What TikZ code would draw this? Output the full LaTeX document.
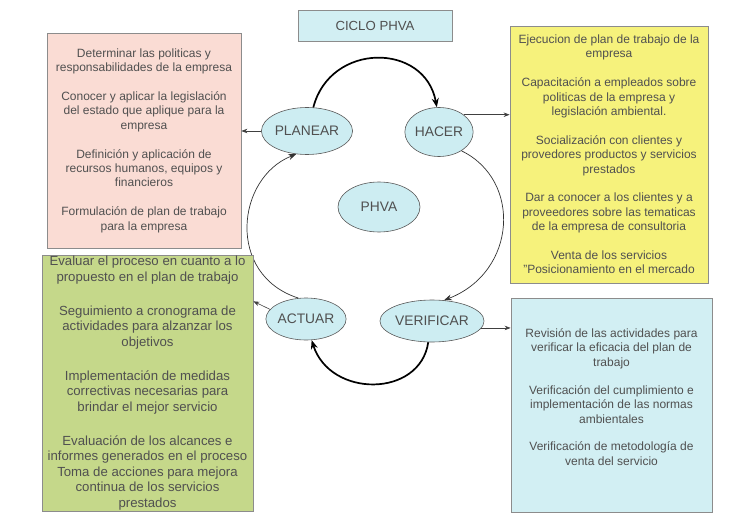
\documentclass[tikz,border=0pt]{standalone}
\usepackage{fontspec}
\setmainfont{Liberation Sans}
\usetikzlibrary{arrows.meta,shapes.geometric}

\definecolor{txtgray}{RGB}{80,80,80}
\definecolor{framegray}{RGB}{140,140,140}
\definecolor{pinkfill}{RGB}{250,220,212}
\definecolor{yellowfill}{RGB}{246,242,124}
\definecolor{greenfill}{RGB}{197,216,138}
\definecolor{bluefill}{RGB}{210,239,243}
\definecolor{stagefill}{RGB}{205,237,242}

\begin{document}
\begin{tikzpicture}[
  x=1pt,y=-1pt,
  >=Stealth,
  cycle/.style={-{Stealth[length=9pt,width=7pt]},line width=1.7pt,draw=black},
  loop/.style={-{Stealth[length=8pt,width=6pt]},line width=0.7pt,draw=black!80},
  side/.style={-{Stealth[length=6pt,width=4.5pt]},line width=0.6pt,draw=black!75},
  stage/.style={ellipse,draw=black!65,line width=0.6pt,fill=stagefill,inner sep=0pt,
    text=txtgray,font=\fontsize{13.8}{15}\selectfont},
  title/.style={rectangle,draw=framegray,line width=0.8pt,fill=bluefill,minimum width=154pt,
    minimum height=31pt,text=txtgray,font=\fontsize{13.2}{14}\selectfont},
  task/.style={rectangle,draw=framegray,line width=0.8pt,align=center,inner sep=0pt,
    text=txtgray,font=\fontsize{12}{14.4}\selectfont},
  taskg/.style={task,font=\fontsize{13.2}{15.5}\selectfont}
]
\useasboundingbox (0,0) rectangle (743,516);

% Title
\node[title] (ciclo) at (375,25.5) {CICLO PHVA};

% Stage nodes
\node[stage,minimum width=70pt,minimum height=47pt] (planear) at (307,131) {PLANEAR};
\node[stage,minimum width=64pt,minimum height=49pt] (hacer) at (439,132) {HACER};
\node[stage,minimum width=82pt,minimum height=50pt] (phva) at (379,207) {PHVA};
\node[stage,minimum width=72pt,minimum height=42pt] (actuar) at (306,319) {ACTUAR};
\node[stage,minimum width=80pt,minimum height=42pt] (verificar) at (432,321) {VERIFICAR};

% Cycle paths
\draw[cycle] (planear.75) .. controls (330,42) and (425,42) .. (hacer.95);
\draw[loop] (hacer.-40) .. controls (522,180) and (517,272) .. (verificar.60);
\draw[cycle] (verificar.-100) .. controls (420,398) and (330,398) .. (actuar.-75);
\draw[loop] (actuar.110) .. controls (226,275) and (236,178) .. (planear.-115);

% Task boxes
\node[task,fill=pinkfill,minimum width=194pt,minimum height=215pt] (planearbox) at (144,140.5)
  {Determinar las politicas y\\
   responsabilidades de la empresa\\[14.4pt]
   Conocer y aplicar la legislación\\
   del estado que aplique para la\\
   empresa\\[14.4pt]
   Definición y aplicación de\\
   recursos humanos, equipos y\\
   financieros\\[14.4pt]
   Formulación de plan de trabajo\\
   para la empresa};
\node[task,fill=yellowfill,minimum width=198pt,minimum height=257pt] (hacerbox) at (609,154.5)
  {Ejecucion de plan de trabajo de la\\
   empresa\\[14.4pt]
   Capacitación a empleados sobre\\
   politicas de la empresa y\\
   legislación ambiental.\\[14.4pt]
   Socialización con clientes y\\
   provedores productos y servicios\\
   prestados\\[14.4pt]
   Dar a conocer a los clientes y a\\
   proveedores sobre las tematicas\\
   de la empresa de consultoria\\[14.4pt]
   Venta de los servicios\\
   "Posicionamiento  en el mercado};
\node[task,fill=bluefill,minimum width=201pt,minimum height=214pt] (verificarbox) at (611.5,405)
  {Revisión de  las actividades para\\
   verificar la eficacia del plan de\\
   trabajo\\[13.5pt]
   Verificación del cumplimiento e\\
   implementación de las  normas\\
   ambientales\\[13.5pt]
   Verificación de metodología de\\
   venta del servicio\\[1.6pt]
   \mbox{}};
\node[taskg,fill=greenfill,minimum width=211pt,minimum height=256pt] (actuarbox) at (147.5,383)
  {Evaluar el proceso en cuanto a lo\\
   propuesto en el plan de trabajo\\[18.5pt]
   Seguimiento a cronograma de\\
   actividades para alzanzar los\\
   objetivos\\[18.5pt]
   Implementación de medidas\\
   correctivas necesarias para\\
   brindar el mejor servicio\\[18.5pt]
   Evaluación de los alcances e\\
   informes generados en el proceso\\
   Toma de acciones para mejora\\
   continua de los servicios\\
   prestados};

% Stage -> task arrows
\draw[side] (planear.west) -- (planear.west -| planearbox.east);
\draw[side] (hacer.35) -- (hacer.35 -| hacerbox.west);
\draw[side] (verificar.-8) -- (verificar.-8 -| verificarbox.west);
\draw[side] (actuar.165) -- ([yshift=8pt]actuar.165 -| actuarbox.east);

\end{tikzpicture}
\end{document}
